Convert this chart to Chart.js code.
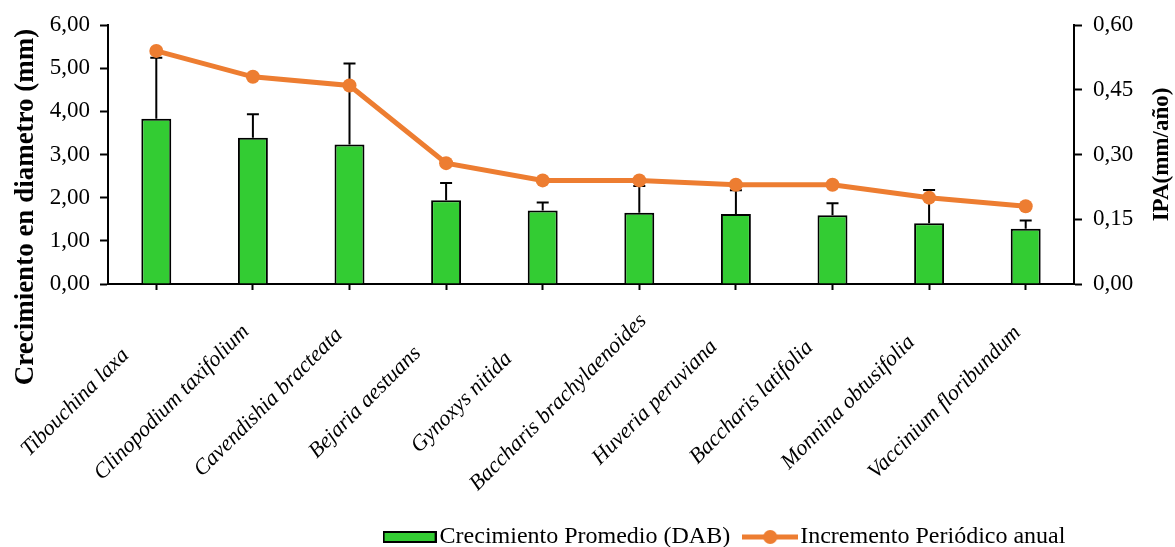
<!DOCTYPE html>
<html>
<head>
<meta charset="utf-8">
<script src="https://cdn.jsdelivr.net/npm/chart.js@4"></script>
<style>
  body { margin: 0; background: #fff; }
  #wrap { width: 1175px; height: 547px; position: relative; }
</style>
</head>
<body>
<div id="wrap"><canvas id="growthChart"></canvas></div>
<script>
const species = ['Tibouchina laxa', 'Clinopodium taxifolium', 'Cavendishia bracteata', 'Bejaria aestuans',
    'Gynoxys nitida', 'Baccharis brachylaenoides', 'Huveria peruviana', 'Baccharis latifolia',
    'Monnina obtusifolia', 'Vaccinium floribundum'];
const growth = [3.83, 3.39, 3.23, 1.94, 1.70, 1.65, 1.62, 1.59, 1.41, 1.28];
const growthError = [1.41, 0.54, 1.88, 0.40, 0.19, 0.62, 0.55, 0.28, 0.77, 0.19];
const ipa = [0.54, 0.48, 0.46, 0.28, 0.24, 0.24, 0.23, 0.23, 0.20, 0.18];
const leftTicks = [0, 1, 2, 3, 4, 5, 6];
const rightTicks = [0, 0.15, 0.30, 0.45, 0.60];
const seriesNames = ['Crecimiento Promedio (DAB)', 'Incremento Periódico anual'];
const leftTitle = 'Crecimiento en diametro (mm)';
const rightTitle = 'IPA(mm/año)';

const green = '#33CC33';
const orange = '#ED7D31';
const serif = "'Liberation Serif', 'Times New Roman', serif";

Chart.defaults.font.family = serif;
Chart.defaults.color = '#000';

// legend icons
function barIcon() {
    const c = document.createElement('canvas');
    c.width = 54; c.height = 12;
    const g = c.getContext('2d');
    g.fillStyle = green;
    g.fillRect(1, 1, 52, 10);
    g.strokeStyle = '#000';
    g.lineWidth = 2;
    g.strokeRect(1, 1, 52, 10);
    return c;
}

function lineIcon() {
    const c = document.createElement('canvas');
    c.width = 56; c.height = 16;
    const g = c.getContext('2d');
    g.strokeStyle = orange;
    g.lineWidth = 5;
    g.beginPath();
    g.moveTo(0, 8);
    g.lineTo(56, 8);
    g.stroke();
    g.fillStyle = orange;
    g.beginPath();
    g.arc(28, 8, 7, 0, Math.PI * 2);
    g.fill();
    return c;
}

const fmt = v => v.toFixed(2).replace('.', ',');

const errorBars = {
    id: 'errorBars',
    afterDatasetDraw(chart, args) {
        if (args.index !== 0) return;
        const ctx = chart.ctx;
        const y = chart.scales.y;
        ctx.save();
        ctx.strokeStyle = '#000';
        ctx.lineWidth = 2;
        args.meta.data.forEach((bar, i) => {
            const top = y.getPixelForValue(growth[i] + growthError[i]);
            const base = y.getPixelForValue(growth[i]);
            ctx.beginPath();
            ctx.moveTo(bar.x, base);
            ctx.lineTo(bar.x, top);
            ctx.moveTo(bar.x - 6, top);
            ctx.lineTo(bar.x + 6, top);
            ctx.stroke();
        });
        ctx.restore();
    }
};

// rotated category labels and axis titles, placed the way the spreadsheet does it
const textLayer = {
    id: 'textLayer',
    afterDraw(chart) {
        const ctx = chart.ctx;
        const x = chart.scales.x;
        const area = chart.chartArea;
        ctx.save();
        ctx.fillStyle = '#000';
        ctx.textAlign = 'center';
        ctx.textBaseline = 'middle';

        ctx.font = 'italic 22px ' + serif;
        species.forEach((name, i) => {
            ctx.save();
            ctx.translate(x.getPixelForValue(i) - 81, x.top + 118.5);
            ctx.rotate(-Math.PI / 4);
            ctx.fillText(name, 0, 0);
            ctx.restore();
        });

        ctx.font = 'bold 27px ' + serif;
        ctx.save();
        ctx.translate(26, 207);
        ctx.rotate(-Math.PI / 2);
        ctx.fillText(leftTitle, 0, 0);
        ctx.restore();

        ctx.font = 'bold 23px ' + serif;
        ctx.save();
        ctx.translate(1162, (area.top + area.bottom) / 2);
        ctx.rotate(-Math.PI / 2);
        ctx.fillText(rightTitle, 0, 0);
        ctx.restore();

        ctx.restore();
    }
};

const legendShift = {
    id: 'legendShift',
    afterLayout(chart) {
        chart.legend.left += 141;
        chart.legend.right += 141;
    }
};

const ctx = document.getElementById('growthChart').getContext('2d');

let growthChart = new Chart(ctx, {
    type: 'bar',
    data: {
        labels: species,
        datasets: [
            {
                label: seriesNames[0],
                data: growth,
                backgroundColor: green,
                borderColor: '#000',
                borderWidth: 2,
                categoryPercentage: 1,
                barPercentage: 0.31,
                yAxisID: 'y',
                order: 1
            },
            {
                type: 'line',
                label: seriesNames[1],
                data: ipa,
                borderColor: orange,
                backgroundColor: orange,
                borderWidth: 5,
                pointRadius: 7,
                pointBorderWidth: 0,
                pointBackgroundColor: orange,
                yAxisID: 'y1',
                order: 0
            }
        ]
    },
    options: {
        responsive: true,
        maintainAspectRatio: false,
        animation: false,
        layout: {
            padding: { top: 25, left: 0, right: 0, bottom: -12 }
        },
        plugins: {
            tooltip: { enabled: false },
            legend: {
                position: 'bottom',
                labels: {
                    usePointStyle: true,
                    pointStyleWidth: 36,
                    padding: 22,
                    font: { size: 24 },
                    color: '#000',
                    generateLabels: () => [
                        { text: seriesNames[0], pointStyle: barIcon(), datasetIndex: 0, hidden: false, lineWidth: 0, fontColor: '#000' },
                        { text: seriesNames[1], pointStyle: lineIcon(), datasetIndex: 1, hidden: false, lineWidth: 0, fontColor: '#000' }
                    ]
                }
            }
        },
        scales: {
            x: {
                offset: true,
                grid: { display: true, drawOnChartArea: false, offset: false, drawTicks: true, tickLength: 6, tickWidth: 2, color: '#000' },
                border: { display: true, color: '#000', width: 2 },
                ticks: { display: false },
                afterFit(scale) { scale.height = 219; }
            },
            y: {
                position: 'left',
                min: 0,
                max: 6,
                afterBuildTicks(scale) { scale.ticks = leftTicks.map(v => ({ value: v })); },
                afterFit(scale) { scale.width = 108; },
                grid: { drawOnChartArea: false, drawTicks: true, tickLength: 8, tickWidth: 2, color: '#000' },
                border: { display: true, color: '#000', width: 2 },
                ticks: { padding: 10, font: { size: 23 }, callback: v => fmt(v) }
            },
            y1: {
                position: 'right',
                min: 0,
                max: 0.6,
                afterBuildTicks(scale) { scale.ticks = rightTicks.map(v => ({ value: v })); },
                afterFit(scale) { scale.width = 101; },
                grid: { drawOnChartArea: false, drawTicks: true, tickLength: 8, tickWidth: 2, color: '#000' },
                border: { display: true, color: '#000', width: 2 },
                ticks: { padding: 11, font: { size: 23 }, callback: v => fmt(v) }
            }
        }
    },
    plugins: [errorBars, textLayer, legendShift]
});
</script>
</body>
</html>
